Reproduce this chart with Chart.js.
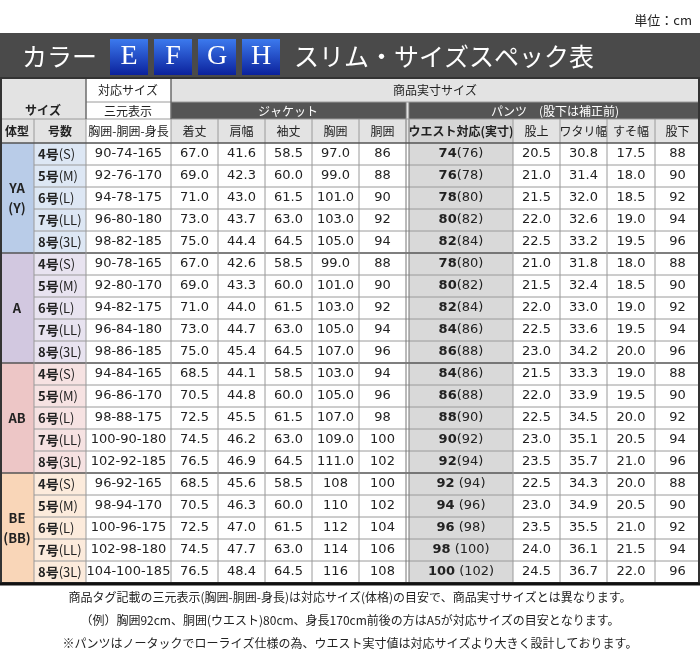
<!DOCTYPE html>
<html><head><meta charset="utf-8">
<script src="https://cdn.jsdelivr.net/npm/chart.js@4"></script>
<style>body{margin:0;background:#fff}</style>
</head><body>
<canvas id="chart" width="700" height="655"></canvas>
<script>
var bodyTypes = ['YA\n(Y)', 'A', 'AB', 'BE\n(BB)'];
var groupColors = ['#b9cce8', '#d2c8e0', '#edc6c6', '#f9d6b8'];
var subColors = ['#dde7f4', '#e8e3f0', '#f6e2e2', '#fcebdc'];
var sizes = ['4号|(S)', '5号|(M)', '6号|(L)', '7号|(LL)', '8号|(3L)'];
var threeDim = ['90-74-165','92-76-170','94-78-175','96-80-180','98-82-185',
  '90-78-165','92-80-170','94-82-175','96-84-180','98-86-185',
  '94-84-165','96-86-170','98-88-175','100-90-180','102-92-185',
  '96-92-165','98-94-170','100-96-175','102-98-180','104-100-185'];
var length = ['67.0','69.0','71.0','73.0','75.0','67.0','69.0','71.0','73.0','75.0','68.5','70.5','72.5','74.5','76.5','68.5','70.5','72.5','74.5','76.5'];
var shoulder = ['41.6','42.3','43.0','43.7','44.4','42.6','43.3','44.0','44.7','45.4','44.1','44.8','45.5','46.2','46.9','45.6','46.3','47.0','47.7','48.4'];
var sleeve = ['58.5','60.0','61.5','63.0','64.5','58.5','60.0','61.5','63.0','64.5','58.5','60.0','61.5','63.0','64.5','58.5','60.0','61.5','63.0','64.5'];
var chest = ['97.0','99.0','101.0','103.0','105.0','99.0','101.0','103.0','105.0','107.0','103.0','105.0','107.0','109.0','111.0','108','110','112','114','116'];
var jWaist = ['86','88','90','92','94','88','90','92','94','96','94','96','98','100','102','100','102','104','106','108'];
var waistFit = ['74','76','78','80','82','78','80','82','84','86','84','86','88','90','92','92','94','96','98','100'];
var waistReal = ['(76)','(78)','(80)','(82)','(84)','(80)','(82)','(84)','(86)','(88)','(86)','(88)','(90)','(92)','(94)',' (94)',' (96)',' (98)',' (100)',' (102)'];
var rise = ['20.5','21.0','21.5','22.0','22.5','21.0','21.5','22.0','22.5','23.0','21.5','22.0','22.5','23.0','23.5','22.5','23.0','23.5','24.0','24.5'];
var thigh = ['30.8','31.4','32.0','32.6','33.2','31.8','32.4','33.0','33.6','34.2','33.3','33.9','34.5','35.1','35.7','34.3','34.9','35.5','36.1','36.7'];
var hem = ['17.5','18.0','18.5','19.0','19.5','18.0','18.5','19.0','19.5','20.0','19.0','19.5','20.0','20.5','21.0','20.0','20.5','21.0','21.5','22.0'];
var inseam = ['88','90','92','94','96','88','90','92','94','96','88','90','92','94','96','88','90','92','94','96'];
var colHeads = ['体型','号数','胸囲-胴囲-身長','着丈','肩幅','袖丈','胸囲','胴囲','ウエスト対応(実寸)','股上','ワタリ幅','すそ幅','股下'];
var colEdges = [0, 34, 86, 171, 218, 265, 312, 359, 406, 409, 513, 560, 607, 655, 700];
var footnotes = ['商品タグ記載の三元表示(胸囲-胴囲-身長)は対応サイズ(体格)の目安で、商品実寸サイズとは異なります。',
  '（例）胸囲92cm、胴囲(ウエスト)80cm、身長170cm前後の方はA5が対応サイズの目安となります。',
  '※パンツはノータックでローライズ仕様の為、ウエスト実寸値は対応サイズより大きく設計しております。'];

var JP = '"Noto Sans CJK JP", sans-serif';
var rowTop = 143, rowH = 22;

var tablePlugin = {
  id: 'table',
  afterDraw: function (c) {
    var ctx = c.ctx, sx = c.scales.x, sy = c.scales.y;
    var X = function (v) { return sx.getPixelForValue(v); };
    var Y = function (v) { return sy.getPixelForValue(v); };
    var rect = function (x0, y0, x1, y1, fill) {
      ctx.fillStyle = fill;
      ctx.fillRect(X(x0), Y(y0), X(x1) - X(x0), Y(y1) - Y(y0));
    };
    var line = function (x0, y0, x1, y1, col, w) {
      ctx.strokeStyle = col; ctx.lineWidth = w || 1;
      ctx.beginPath(); ctx.moveTo(X(x0), Y(y0)); ctx.lineTo(X(x1), Y(y1)); ctx.stroke();
    };
    var text = function (s, x, y, font, col, align) {
      ctx.font = font; ctx.fillStyle = col; ctx.textAlign = align || 'center'; ctx.textBaseline = 'middle';
      ctx.fillText(s, X(x), Y(y));
    };
    ctx.save();
    // unit
    text('単位：cm', 692, 20, '13px ' + JP, '#222', 'right');
    // title band
    rect(0, 33, 700, 78, '#4a4a4a');
    text('カラー', 22, 56, '25px ' + JP, '#fff', 'left');
    ['E', 'F', 'G', 'H'].forEach(function (l, i) {
      var x0 = 110 + i * 44;
      var g = ctx.createLinearGradient(0, Y(38), 0, Y(76));
      g.addColorStop(0, '#3d7cf0'); g.addColorStop(1, '#0a1f9a');
      rect(x0, 39, x0 + 38, 75, g);
      text(l, x0 + 19, 57, '28px "Liberation Serif", serif', '#fff');
    });
    text('スリム・サイズスペック表', 294, 56, '25px ' + JP, '#fff', 'left');
    // header
    rect(0, 78, 700, 143, '#e3e3e3');
    rect(86, 78, 171, 119, '#ffffff');
    rect(171, 102, 406, 119, '#555');
    rect(409, 102, 700, 119, '#555');
    rect(86, 119, 171, 143, '#ffffff');
    rect(409, 119, 513, 143, '#d4d4d4');
    text('サイズ', 43, 110, 'bold 12px ' + JP, '#222');
    text('対応サイズ', 128, 90, '12px ' + JP, '#222');
    text('三元表示', 128, 111, '12px ' + JP, '#222');
    text('商品実寸サイズ', 435, 90, '12px ' + JP, '#222');
    text('ジャケット', 288, 111, '12px ' + JP, '#fff');
    text('パンツ　(股下は補正前)', 555, 111, '12px ' + JP, '#fff');
    var heads = [[0,1],[1,2],[2,3],[3,4],[4,5],[5,6],[6,7],[7,8],[9,10],[10,11],[11,12],[12,13],[13,14]];
    heads.forEach(function (h, i) {
      var cx = (colEdges[h[0]] + colEdges[h[1]]) / 2;
      var bold = (i < 2 || i == 8) ? 'bold ' : '';
      text(colHeads[i], cx, 131, bold + '12px ' + JP, '#222');
    });
    // body
    for (var g = 0; g < 4; g++) {
      var gy = rowTop + g * 5 * rowH;
      rect(0, gy, 34, gy + 5 * rowH, groupColors[g]);
      rect(34, gy, 86, gy + 5 * rowH, subColors[g]);
      var lines = bodyTypes[g].split('\n');
      lines.forEach(function (s, k) {
        text(s, 17, gy + 2.5 * rowH + (k - (lines.length - 1) / 2) * 20, 'bold 13px ' + JP, '#222');
      });
      for (var r = 0; r < 5; r++) {
        var i = g * 5 + r, cy = gy + r * rowH + rowH / 2;
        var sz = sizes[r].split('|');
        ctx.font = 'bold 13px ' + JP;
        var w1 = ctx.measureText(sz[0]).width;
        text(sz[0], 38, cy, 'bold 13px ' + JP, '#222', 'left');
        text(sz[1], 38 + w1, cy, '13px ' + JP, '#222', 'left');
        var vals = [threeDim[i], length[i], shoulder[i], sleeve[i], chest[i], jWaist[i]];
        vals.forEach(function (v, k) {
          text(v, (colEdges[k + 2] + colEdges[k + 3]) / 2, cy, '13px "DejaVu Sans", sans-serif', '#222');
        });
        rect(409, gy + r * rowH, 513, gy + (r + 1) * rowH, '#d9d9d9');
        ctx.font = 'bold 13px "DejaVu Sans", sans-serif';
        var wa = ctx.measureText(waistFit[i]).width;
        ctx.font = '13px "DejaVu Sans", sans-serif';
        var wb = ctx.measureText(waistReal[i]).width;
        var sxw = 461 - (wa + wb) / 2;
        text(waistFit[i], sxw, cy, 'bold 13px "DejaVu Sans", sans-serif', '#222', 'left');
        text(waistReal[i], sxw + wa, cy, '13px "DejaVu Sans", sans-serif', '#222', 'left');
        [rise[i], thigh[i], hem[i], inseam[i]].forEach(function (v, k) {
          text(v, (colEdges[k + 10] + colEdges[k + 11]) / 2, cy, '13px "DejaVu Sans", sans-serif', '#222');
        });
        if (r > 0) line(34, gy + r * rowH, 700, gy + r * rowH, '#9a9a9a');
      }
      if (g > 0) line(0, gy, 700, gy, '#555', 1.5);
    }
    // grid lines
    var bottom = rowTop + 20 * rowH;
    [34, 86, 171, 218, 265, 312, 359, 513, 560, 607, 655].forEach(function (x) {
      var top = (x == 86 || x == 171) ? 78 : 119;
      line(x, top, x, bottom, '#9a9a9a');
    });
    line(406, 102, 406, bottom, '#777'); line(409, 102, 409, bottom, '#777');
    line(86, 102, 700, 102, '#9a9a9a');
    line(0, 119, 700, 119, '#9a9a9a');
    line(0, 143, 700, 143, '#555', 1.5);
    line(86, 78, 86, 119, '#555'); line(171, 78, 171, 119, '#555');
    ctx.strokeStyle = '#333'; ctx.lineWidth = 2;
    ctx.strokeRect(X(1), Y(78), X(699) - X(1), Y(bottom) - Y(78));
    line(0, bottom + 1, 700, bottom + 1, '#111', 3);
    footnotes.forEach(function (s, k) {
      text(s, 350, 597 + k * 23, '12px ' + JP, '#222');
    });
    ctx.restore();
  }
};

new Chart(document.getElementById('chart'), {
  type: 'scatter',
  data: { datasets: [{ data: [] }] },
  options: {
    responsive: false,
    animation: false,
    layout: { padding: 0 },
    plugins: { legend: { display: false }, tooltip: { enabled: false } },
    scales: {
      x: { type: 'linear', min: 0, max: 700, display: false },
      y: { type: 'linear', min: 0, max: 655, reverse: true, display: false }
    }
  },
  plugins: [tablePlugin]
});
</script>
</body></html>
